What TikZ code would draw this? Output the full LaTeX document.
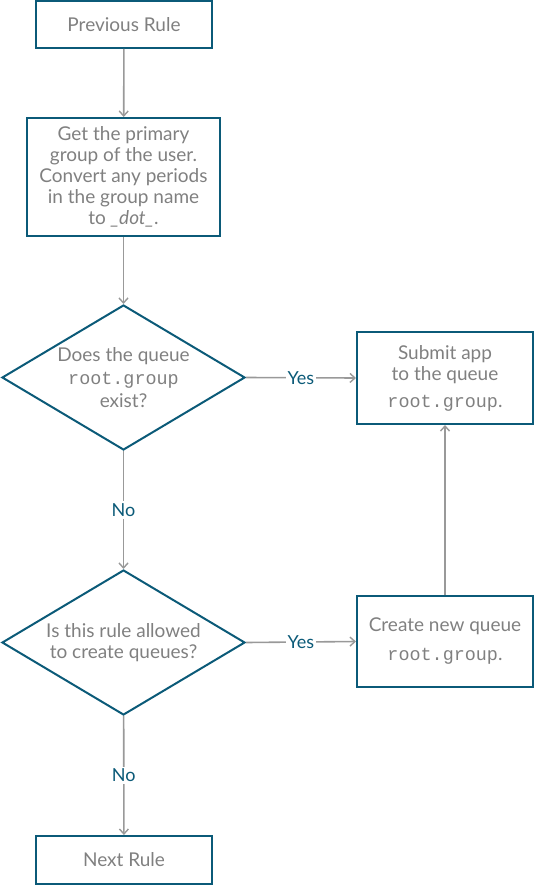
\documentclass[tikz,border=0pt]{standalone}
\usepackage{fontspec}
\setmainfont{Lato}
\setmonofont[Scale=0.97]{Liberation Mono}
\usetikzlibrary{shapes.geometric,arrows.meta}
\definecolor{teal1}{HTML}{0B5A78}
\definecolor{txtgrey}{HTML}{808080}
\definecolor{arrgrey}{HTML}{999999}
\begin{document}
\begin{tikzpicture}[x=1pt,y=-1pt,
  every node/.style={font=\fontsize{19}{21}\selectfont, text=txtgrey},
  boxnode/.style={draw=teal1, line width=2pt, rectangle, inner sep=0pt, align=center},
  decision/.style={draw=teal1, line width=2pt, diamond, shape aspect=1.676, inner sep=0pt, align=center, minimum width=243pt, minimum height=145pt},
  conn/.style={draw=arrgrey, line width=1.6pt, -{Straight Barb[length=5pt,width=9pt,line width=1.4pt]}},
  lbl/.style={fill=white, text=teal1, inner sep=2pt, font=\fontsize{18}{21}\selectfont}
]
\useasboundingbox (0,0) rectangle (534,885);
\node[boxnode, minimum width=176pt, minimum height=47pt] (prev) at (124,24.5) {Previous Rule};
\node[boxnode, minimum width=193pt, minimum height=118pt] (get) at (123.5,177) {Get the primary\\group of the user.\\Convert any periods\\in the group name\\to \textit{\_dot\_}.};
\node[decision, font=\fontsize{19}{23}\selectfont] (d1) at (123.5,377.5) {Does the queue\\\texttt{root.group}\\exist?};
\node[boxnode, minimum width=176pt, minimum height=92pt] (submit) at (445,378) {Submit app\\to the queue\\[6pt]\texttt{root.group}.};
\node[decision] (d2) at (123.5,642.5) {Is this rule allowed\\to create queues?};
\node[boxnode, minimum width=176pt, minimum height=91pt] (create) at (445,641.5) {Create new queue\\[8pt]\texttt{root.group}.};
\node[boxnode, minimum width=176pt, minimum height=48pt] (next) at (124,860) {Next Rule};

\draw[conn] (prev) -- (get);
\draw[conn] (get) -- (d1);
\draw[conn] (d1) -- node[lbl] {No} (d2);
\draw[conn] (d2) -- node[lbl] {No} (next);
\draw[conn] (d1.east) -- node[lbl] {Yes} (submit.west);
\draw[conn] (d2.east) -- node[lbl] {Yes} (create.west);
\draw[conn] (create) -- (submit);
\end{tikzpicture}
\end{document}
